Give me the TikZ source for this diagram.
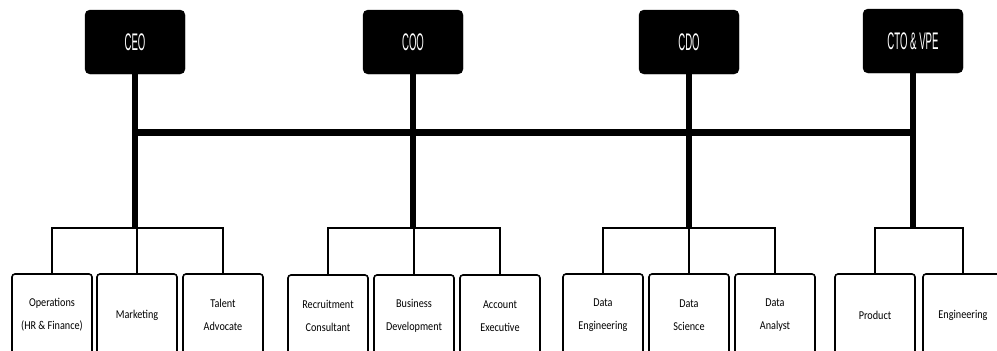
\documentclass[tikz,border=0pt]{standalone}
\usepackage{fontspec}
\newfontfamily\headfont[FakeStretch=0.4]{Liberation Sans}
\newfontfamily\unitfont[FakeStretch=0.85]{Carlito}
\begin{document}
\begin{tikzpicture}[x=1pt,y=-1pt,
  chief/.style={draw=black, fill=black, rounded corners=5pt, minimum width=100pt,
    minimum height=64pt, text=white, font=\headfont\fontsize{24}{24}\selectfont},
  unit/.style={draw=black, line width=1.6pt, rounded corners=3pt, minimum width=80pt,
    minimum height=82pt, align=center, font=\unitfont\fontsize{12}{23}\selectfont},
  trunk/.style={line width=6pt},
  bus/.style={line width=7pt},
  branch/.style={line width=1.6pt}]
\useasboundingbox (0,0) rectangle (997,351);
\clip (0,0) rectangle (997,351);
% chiefs
\node[chief] (ceo) at (135,42) {CEO};
\node[chief] (coo) at (413,42) {COO};
\node[chief] (cdo) at (689,42) {CDO};
\node[chief] (cto) at (913,41) {CTO \& VPE};
% junctions
\coordinate (ceo-b) at (135,132);
\coordinate (cto-b) at (913,132);
\coordinate (ceo-j) at (135,228);
\coordinate (coo-j) at (413,228);
\coordinate (cdo-j) at (689,228);
\coordinate (cto-j) at (913,228);
% teams
\node[unit] (ops) at (52,315) {Operations\\(HR \& Finance)};
\node[unit] (mkt) at (137,315) {Marketing};
\node[unit] (tal) at (223,315) {Talent\\Advocate};
\node[unit] (rec) at (328,316) {Recruitment\\Consultant};
\node[unit] (bd) at (414,316) {Business\\Development};
\node[unit] (ae) at (500,316) {Account\\Executive};
\node[unit] (de) at (603,315) {Data\\Engineering};
\node[unit] (ds) at (689,315) {Data\\Science};
\node[unit] (da) at (775,315) {Data\\Analyst};
\node[unit] (prod) at (875,315) {Product};
\node[unit] (eng) at (963,315) {Engineering};
% lines
\draw[bus] (ceo-b) -- (cto-b);
\foreach \c in {ceo,coo,cdo,cto}
  \draw[trunk] (\c) -- (\c-j);
\foreach \u in {ops,mkt,tal}
  \draw[branch] (ceo-j) -| (\u);
\foreach \u in {rec,bd,ae}
  \draw[branch] (coo-j) -| (\u);
\foreach \u in {de,ds,da}
  \draw[branch] (cdo-j) -| (\u);
\foreach \u in {prod,eng}
  \draw[branch] (cto-j) -| (\u);
\end{tikzpicture}
\end{document}
